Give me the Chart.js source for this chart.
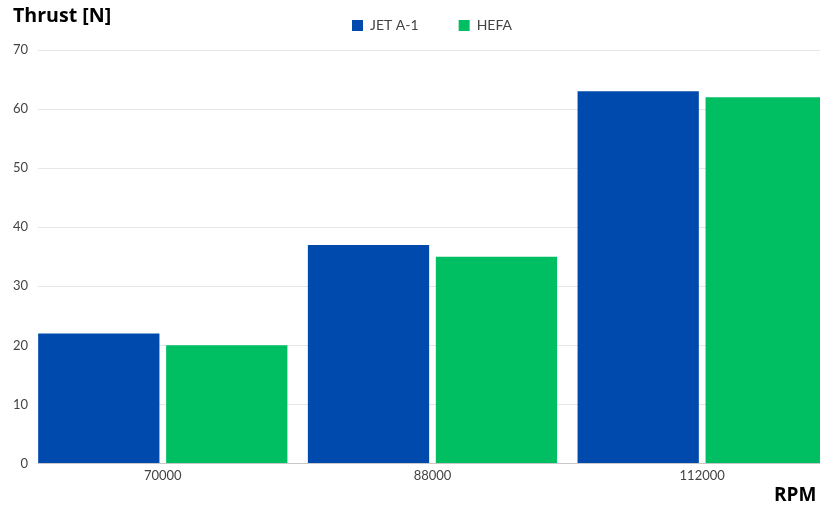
<!DOCTYPE html>
<html>
<head>
<meta charset="utf-8">
<title>Thrust vs RPM</title>
<script src="https://cdn.jsdelivr.net/npm/chart.js@4/dist/chart.umd.min.js"></script>
<style>
  html, body { margin: 0; padding: 0; background: #fff; width: 820px; height: 505px; overflow: hidden; }
  #wrap { position: relative; width: 864px; height: 505px; }
  #chart { position: absolute; left: 0; top: 0; }
  .axis-title { position: absolute; font-family: "Open Sans", sans-serif; font-weight: 700; font-size: 19px; line-height: 19px; color: #000; white-space: nowrap; }
  #ytitle { left: 13px; top: 5px; font-size: 19.6px; }
  #xtitle { left: 774px; top: 484.5px; }
</style>
</head>
<body>
<div id="wrap">
  <canvas id="chart" width="864" height="505"></canvas>
  <div id="ytitle" class="axis-title">Thrust [N]</div>
  <div id="xtitle" class="axis-title">RPM</div>
</div>
<script>
// Engine speed groups and measured thrust per fuel
const rpmLabels = ['70000', '88000', '112000'];
const seriesNames = ['JET A-1', 'HEFA'];
const jetA1Thrust = [22, 37, 63];
const hefaThrust = [20, 35, 62];
const yTickStep = 10;
const yMax = 70;

const seriesColors = ['#004AAD', '#00BF63'];
const tickColor = '#444';

// bars sit on a numeric axis (one unit per RPM group) so the groups can hug the left edge
const toPoints = vals => vals.map((v, i) => ({ x: i, y: v }));

// keeps a little air between the legend row and the plot
const legendGap = {
  id: 'legendGap',
  beforeLayout(chart, args, opts) {
    const lg = chart.legend;
    if (lg && !lg._gapWrapped) {
      const fit = lg.fit.bind(lg);
      lg.fit = function () { fit(); this.height += opts.gap || 0; };
      lg._gapWrapped = true;
    }
  }
};

function draw() {
  new Chart(document.getElementById('chart'), {
    type: 'bar',
    data: {
      datasets: [
        { label: seriesNames[0], data: toPoints(jetA1Thrust), backgroundColor: seriesColors[0], borderWidth: 0 },
        { label: seriesNames[1], data: toPoints(hefaThrust), backgroundColor: seriesColors[1], borderWidth: 0 }
      ]
    },
    options: {
      responsive: false,
      animation: false,
      devicePixelRatio: 1,
      layout: { padding: { top: -21.5, left: 0, right: 0, bottom: 0 } },
      datasets: { bar: { barPercentage: 0.9477, categoryPercentage: 0.949 } },
      scales: {
        x: {
          type: 'linear',
          offset: false,
          min: -0.4627,
          max: 2.6,
          afterFit(scale) { scale.height = 41.5; },
          grid: { display: false, drawTicks: false, offset: false },
          border: { display: true, color: '#c8c8c8', width: 1 },
          ticks: {
            stepSize: 1,
            includeBounds: false,
            padding: 5,
            color: tickColor,
            font: { family: 'Lato', size: 13 },
            callback: v => (Number.isInteger(v) && rpmLabels[v] !== undefined) ? rpmLabels[v] : ''
          }
        },
        y: {
          min: 0,
          max: yMax,
          afterFit(scale) { scale.width = 38; },
          grid: { color: '#e6e6e6', drawTicks: false },
          border: { display: false },
          ticks: {
            stepSize: yTickStep,
            padding: 10,
            color: tickColor,
            font: { family: 'Lato', size: 13 }
          }
        }
      },
      plugins: {
        legendGap: { gap: 7.5 },
        legend: {
          position: 'top',
          align: 'center',
          labels: {
            boxWidth: 11,
            boxHeight: 11,
            padding: 40,
            color: tickColor,
            font: { family: 'Lato', size: 14 }
          }
        },
        tooltip: { enabled: false }
      }
    },
    plugins: [legendGap]
  });
}

Promise.all([
  document.fonts.load('13px Lato'),
  document.fonts.load('14px Lato'),
  document.fonts.load('700 19px "Open Sans"')
]).then(draw, draw);
</script>
</body>
</html>
